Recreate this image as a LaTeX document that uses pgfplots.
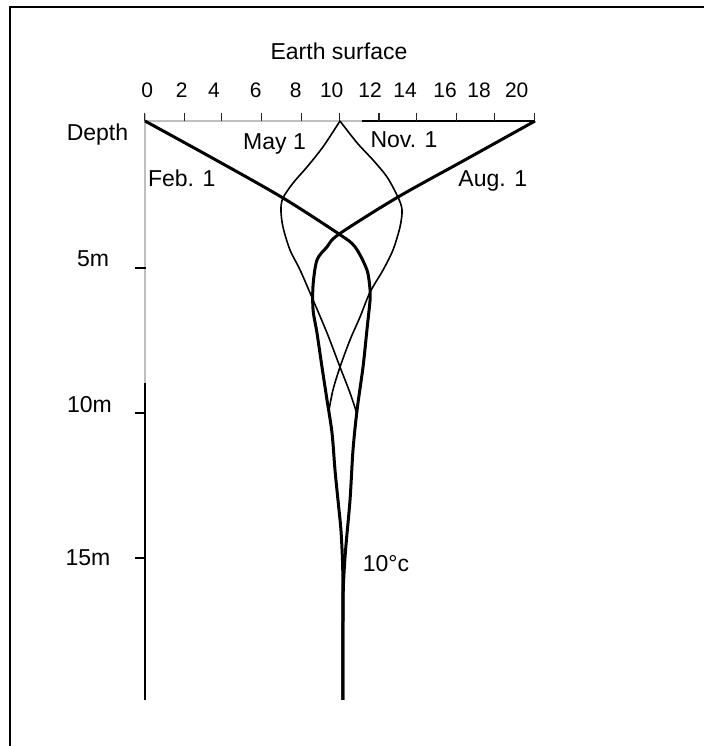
\documentclass[border=0pt]{standalone}
\usepackage{fontspec}
\setmainfont{Liberation Sans}
\usepackage{pgfplots}
\pgfplotsset{compat=1.18}
\begin{document}
\begin{tikzpicture}[x=1pt,y=1pt]
\path[use as bounding box] (0,0) rectangle (704,-746);
\fill[white] (0,0) rectangle (704,-746);
\draw[line width=2pt] (9.5,-746) -- (9.5,-7.5) -- (704,-7.5);
\begin{axis}[at={(145pt,-121pt)}, anchor=north west, scale only axis,
  width=390pt, height=580pt, xmin=0, xmax=21, ymin=0, ymax=19.9,
  y dir=reverse, hide axis, clip=false]
% axis lines
\draw[gray!50, line width=1.6pt] (axis cs:0,0) -- (axis cs:11.69,0);
\draw[black, line width=1.4pt] (axis cs:11.69,0) -- (axis cs:21,0);
\draw[gray!50, line width=1.6pt] (axis cs:0,-0.24) -- (axis cs:0,9.0);
\draw[black, line width=1.4pt] (axis cs:0,9.0) -- (axis cs:0,19.86);
% top ticks
\draw[black!85, line width=1.1pt]
  (axis cs:-0.04,0) -- (axis cs:-0.04,-0.27)
  (axis cs:2.12,0) -- (axis cs:2.12,-0.27)
  (axis cs:4.13,0) -- (axis cs:4.13,-0.27)
  (axis cs:6.28,0) -- (axis cs:6.28,-0.27)
  (axis cs:8.44,0) -- (axis cs:8.44,-0.27)
  (axis cs:10.45,0) -- (axis cs:10.45,-0.27)
  (axis cs:12.6,0) -- (axis cs:12.6,-0.27)
  (axis cs:14.63,0) -- (axis cs:14.63,-0.27)
  (axis cs:16.78,0) -- (axis cs:16.78,-0.27)
  (axis cs:18.81,0) -- (axis cs:18.81,-0.27)
  (axis cs:20.95,0) -- (axis cs:20.95,-0.27);
% left ticks
\draw[black, line width=1.2pt]
  (axis cs:-0.52,5.04) -- (axis cs:0.08,5.04)
  (axis cs:-0.52,10.02) -- (axis cs:0.08,10.02)
  (axis cs:-0.52,14.99) -- (axis cs:0.08,14.99);
% Feb. 1 (thick)
\addplot[black, line width=3pt, smooth] coordinates {
(0,0) (3.77,1.32) (7.43,2.64) (10.45,3.88) (11.31,4.32) (11.95,5.11)
(12.12,5.80) (12.12,6.14) (11.95,7.17) (11.74,8.44) (11.42,9.91)
(11.20,11.29) (11.04,13.00) (10.80,14.72) (10.68,16.0) (10.66,17.5) (10.66,19.86)};
% Aug. 1 (thick)
\addplot[black, line width=3pt, smooth] coordinates {
(21,0) (17.3,1.31) (13.62,2.61) (10.45,3.88) (9.80,4.32) (9.26,4.77)
(9.05,5.63) (9.05,6.48) (9.26,7.27) (9.53,8.44) (9.80,9.57) (10.07,10.70)
(10.23,11.97) (10.39,13.00) (10.55,14.03) (10.64,15.2) (10.66,16.5) (10.66,19.86)};
% May 1 (thin)
\addplot[black, line width=1.6pt, smooth] coordinates {
(10.50,0) (9.58,0.89) (8.72,1.58) (7.97,2.13) (7.43,2.64) (7.32,3.05)
(7.43,3.64) (7.81,4.43) (8.35,5.11) (9.05,6.14) (9.80,7.27) (10.50,8.44)
(11.04,9.33) (11.40,10.02)};
% Nov. 1 (thin)
\addplot[black, line width=1.6pt, smooth] coordinates {
(10.50,0) (11.42,0.75) (12.28,1.34) (13.03,1.92) (13.62,2.61) (13.84,3.05)
(13.73,3.64) (13.35,4.43) (12.82,5.11) (12.12,5.87) (11.58,6.72) (11.04,7.51)
(10.50,8.44) (10.12,9.23) (9.90,9.95)};
\end{axis}
% texts
\begin{scope}[every node/.style={inner sep=0pt, anchor=base, font=\fontsize{23}{27}\selectfont}]
\node at (339,-60) {Earth surface};
\node at (97.5,-141) {Depth};
\node at (93,-266) {5m};
\node at (89.5,-412) {10m};
\node at (88,-565) {15m};
\node at (181.7,-186.7) {Feb. 1};
\node at (492.8,-186.7) {Aug. 1};
\node at (274.5,-150) {May 1};
\node at (404,-148) {Nov. 1};
\node at (386,-571) {10\textdegree c};
\end{scope}
\begin{scope}[every node/.style={inner sep=0pt, anchor=base, font=\fontsize{21}{25}\selectfont}]
\node at (147.3,-97.3) {0};
\node at (181.7,-97.3) {2};
\node at (214,-97.3) {4};
\node at (255.7,-97.3) {6};
\node at (295.7,-97.3) {8};
\node at (331.7,-97.3) {10};
\node at (370,-97.3) {12};
\node at (405,-97.3) {14};
\node at (445,-97.3) {16};
\node at (479,-97.3) {18};
\node at (516.7,-97.3) {20};
\end{scope}
\end{tikzpicture}
\end{document}
